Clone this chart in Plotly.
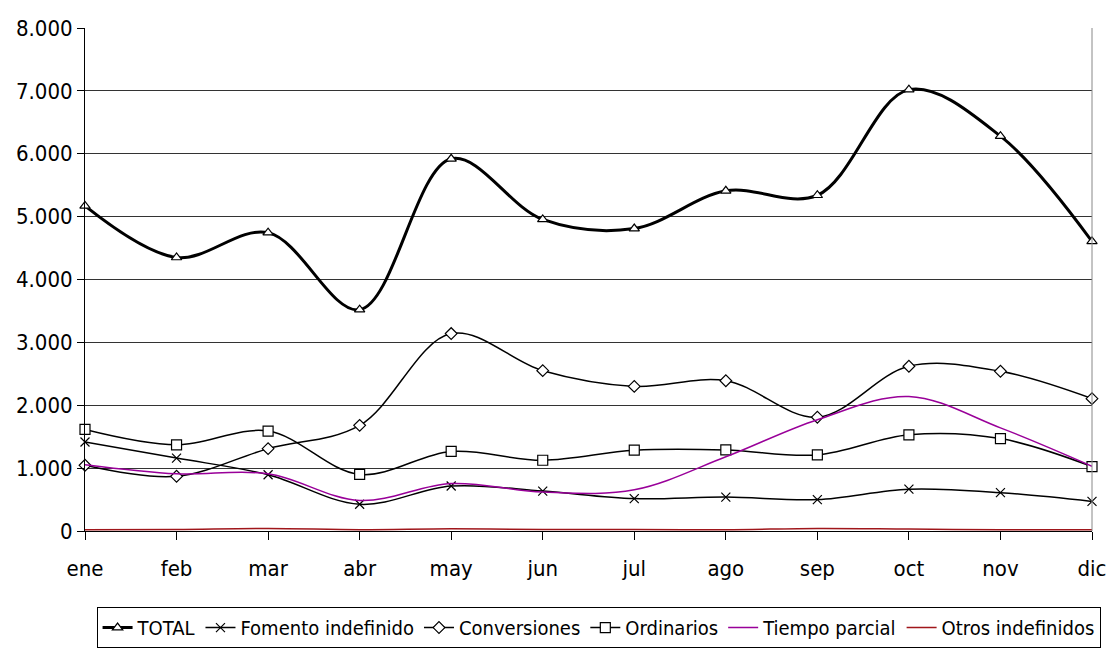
import plotly.graph_objects as go

months = ["ene", "feb", "mar", "abr", "may", "jun", "jul", "ago", "sep", "oct", "nov", "dic"]
total = [5170, 4350, 4745, 3520, 5920, 4955, 4810, 5410, 5340, 7020, 6280, 4605]
fomento = [1415, 1160, 895, 425, 715, 635, 515, 540, 500, 665, 610, 470]
conversiones = [1045, 870, 1310, 1680, 3140, 2550, 2300, 2390, 1810, 2620, 2540, 2105]
ordinarios = [1615, 1370, 1590, 900, 1265, 1125, 1285, 1290, 1210, 1530, 1470, 1025]
tiempo_parcial = [1055, 910, 910, 485, 755, 620, 655, 1180, 1770, 2140, 1640, 1030]
otros = [20, 25, 40, 20, 35, 25, 25, 20, 40, 30, 20, 20]
y_ticks = [0, 1000, 2000, 3000, 4000, 5000, 6000, 7000, 8000]

FONT = "DejaVu Sans Condensed, DejaVu Sans, sans-serif"

fig = go.Figure()

def add(name, vals, color, width, symbol=None, size=9, fill="white"):
    mode = "lines+markers" if symbol else "lines"
    kw = {}
    if symbol:
        kw["marker"] = dict(symbol=symbol, size=size, color=fill,
                            line=dict(color="black", width=1.2))
    fig.add_trace(go.Scatter(
        x=months, y=vals, name=name, mode=mode,
        line=dict(color=color, width=width, shape="spline", smoothing=1.0),
        cliponaxis=False, **kw))

add("TOTAL", total, "black", 3, "triangle-up", 9)
add("Fomento indefinido", fomento, "black", 1.5, "x-thin", 9, fill="black")
add("Conversiones", conversiones, "black", 1.5, "diamond", 9)
add("Ordinarios", ordinarios, "black", 1.5, "square", 10)
add("Tiempo parcial", tiempo_parcial, "#990099", 1.5)
add("Otros indefinidos", otros, "#A0161B", 1.5)

fig.update_layout(
    width=1109, height=650,
    paper_bgcolor="white", plot_bgcolor="white",
    margin=dict(l=85, r=17, t=28, b=119),
    separators=",.",
    font=dict(family=FONT, size=20, color="black"),
    showlegend=True,
    legend=dict(orientation="h", x=0.51, xanchor="center",
                yref="container", y=0.003, yanchor="bottom",
                bordercolor="black", borderwidth=1, bgcolor="white",
                font=dict(family=FONT, size=20), itemwidth=30,
                tracegroupgap=0, traceorder="normal"),
)
fig.update_xaxes(
    type="category", range=[0, 11], showgrid=False, automargin=False,
    showline=True, linecolor="black", linewidth=1,
    ticks="outside", ticklen=8, tickcolor="black",
    ticklabelstandoff=10,
    tickfont=dict(family=FONT, size=22), zeroline=False,
)
fig.update_yaxes(
    range=[0, 8000], tickvals=y_ticks, tickformat=",d", automargin=False,
    showgrid=True, gridcolor="#333333", gridwidth=1,
    showline=True, linecolor="black", linewidth=1,
    ticks="outside", ticklen=7, tickcolor="black",
    tickfont=dict(family=FONT, size=22), zeroline=False,
)
# right border line of plot area
fig.add_shape(type="line", xref="paper", yref="paper", x0=1, x1=1, y0=0, y1=1,
              line=dict(color="#888888", width=1))

fig.write_html("out.html", config={"displayModeBar": False},
               post_script="document.body.style.margin='0';")
